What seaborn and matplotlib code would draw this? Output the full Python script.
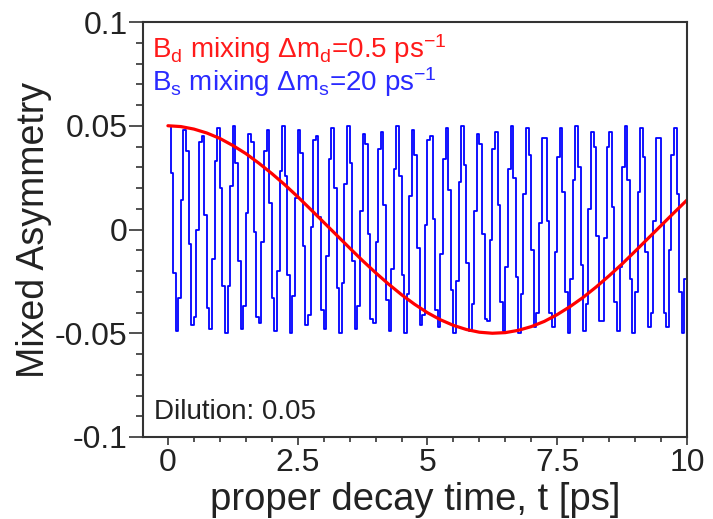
import numpy as np
import pandas as pd
import matplotlib
matplotlib.use("Agg")
import matplotlib.pyplot as plt
import seaborn as sns
from matplotlib.ticker import MultipleLocator, FixedLocator, FixedFormatter

# ---- data ----
# Bs mixing histogram (bin width 0.05 ps, 0..10 ps)
blue_bin_width = 0.05
blue_vals = [
    .050, .027, -.021, -.049, -.033, .014, .048, .038, -.007, -.046,
    -.042, .000, .042, .045, .007, -.038, -.048, -.014, .033, .049,
    .020, -.027, -.050, -.027, .021, .050, .032, -.015, -.048, -.037,
    .008, .046, .042, -.001, -.042, -.045, -.006, .038, .048, .013,
    -.033, -.049, -.020, .028, .050, .026, -.022, -.050, -.032, .015,
    .048, .037, -.008, -.046, -.041, .001, .043, .045, .006, -.039,
    -.048, -.013, .034, .049, .020, -.028, -.050, -.026, .022, .050,
    .032, -.015, -.048, -.037, .009, .046, .041, -.002, -.043, -.045,
    -.006, .039, .047, .012, -.034, -.049, -.019, .029, .050, .026,
    -.022, -.050, -.031, .016, .048, .036, -.009, -.046, -.041, .002,
    .043, .045, .005, -.039, -.047, -.012, .034, .049, .019, -.029,
    -.050, -.025, .023, .050, .031, -.016, -.049, -.036, .009, .046,
    .041, -.002, -.043, -.044, -.005, .039, .047, .012, -.035, -.049,
    -.018, .029, .050, .025, -.023, -.050, -.031, .017, .049, .036,
    -.010, -.047, -.040, .003, .044, .044, .004, -.040, -.047, -.011,
    .035, .049, .018, -.030, -.050, -.024, .024, .050, .030, -.017,
    -.049, -.036, .010, .047, .040, -.003, -.044, -.044, -.004, .040,
    .047, .011, -.035, -.049, -.018, .030, .050, .024, -.024, -.050,
    -.030, .018, .049, .035, -.011, -.047, -.040, .004, .044, .044,
    .003, -.040, -.047, -.010, .036, .049, .017, -.030, -.050, -.024,
]

# Bd mixing curve, sampled every 0.25 ps
red_t = [0.0, 0.25, 0.5, 0.75, 1.0, 1.25, 1.5, 1.75, 2.0, 2.25, 2.5, 2.75, 3.0,
         3.25, 3.5, 3.75, 4.0, 4.25, 4.5, 4.75, 5.0, 5.25, 5.5, 5.75, 6.0, 6.25,
         6.5, 6.75, 7.0, 7.25, 7.5, 7.75, 8.0, 8.25, 8.5, 8.75, 9.0, 9.25, 9.5,
         9.75, 10.0]
red_vals = [.0500, .0496, .0484, .0465, .0439, .0405, .0366, .0320, .0270, .0216,
            .0158, .0097, .0035, -.0027, -.0089, -.0150, -.0208, -.0263, -.0314,
            -.0360, -.0401, -.0435, -.0462, -.0482, -.0495, -.0500, -.0497, -.0486,
            -.0468, -.0443, -.0410, -.0371, -.0327, -.0277, -.0223, -.0166, -.0105,
            -.0043, .0019, .0081, .0142]

x_ticks = [0, 2.5, 5, 7.5, 10]
x_ticklabels = ["0", "2.5", "5", "7.5", "10"]
y_ticks = [-0.1, -0.05, 0, 0.05, 0.1]
y_ticklabels = ["-0.1", "-0.05", "0", "0.05", "0.1"]

label_red = r"B$_{d}$ mixing $\Delta$m$_{d}$=0.5 ps$^{-1}$"
label_blue = r"B$_{s}$ mixing $\Delta$m$_{s}$=20 ps$^{-1}$"
dilution_text = "Dilution: 0.05"
xlabel = "proper decay time, t [ps]"
ylabel = "Mixed Asymmetry"

# ---- plotting ----
sns.set_theme(style="ticks")
plt.rcParams["font.family"] = ["Liberation Sans", "DejaVu Sans"]
plt.rcParams["mathtext.fontset"] = "custom"
plt.rcParams["mathtext.rm"] = "Liberation Sans"
plt.rcParams["mathtext.it"] = "Liberation Sans"
plt.rcParams["mathtext.default"] = "regular"

fig = plt.figure(figsize=(7.13, 5.19), dpi=100)
ax = fig.add_axes([143 / 713, 1 - 437 / 519, (687 - 143) / 713, (437 - 22) / 519])

edges = np.arange(len(blue_vals) + 1) * blue_bin_width
blue_df = pd.DataFrame({"t": edges, "A": list(blue_vals) + [blue_vals[-1]]})
red_df = pd.DataFrame({"t": red_t, "A": red_vals})

sns.lineplot(data=blue_df, x="t", y="A", ax=ax, color="#0000ff", linewidth=1.3,
             drawstyle="steps-post", estimator=None, sort=False)
sns.lineplot(data=red_df, x="t", y="A", ax=ax, color="#ff0000", linewidth=2.3,
             estimator=None, sort=False)

ax.set_xlim(-0.48, 10)
ax.set_ylim(-0.1, 0.1)

ax.xaxis.set_major_locator(FixedLocator(x_ticks))
ax.xaxis.set_major_formatter(FixedFormatter(x_ticklabels))
ax.xaxis.set_minor_locator(MultipleLocator(0.5))
ax.yaxis.set_major_locator(FixedLocator(y_ticks))
ax.yaxis.set_major_formatter(FixedFormatter(y_ticklabels))
ax.yaxis.set_minor_locator(MultipleLocator(0.01))

ax.tick_params(axis="both", which="both", direction="out", color="#333333",
               labelcolor="#222222", width=1.2)
ax.tick_params(axis="y", which="major", length=10, labelsize=23, pad=1)
ax.tick_params(axis="y", which="minor", length=5)
ax.tick_params(axis="x", which="major", length=6, labelsize=23, pad=2)
ax.tick_params(axis="x", which="minor", length=3.5)

for s in ax.spines.values():
    s.set_color("#333333")
    s.set_linewidth(1.5)
    s.set_visible(True)

ax.set_xlabel(xlabel, fontsize=27.5, color="#222222")
ax.set_ylabel(ylabel, fontsize=27, color="#222222")
ax.xaxis.set_label_coords(0.5, -0.108)
ax.yaxis.set_label_coords(-0.168, 0.5)

ax.text(0.016, 0.975, label_red, transform=ax.transAxes, color="#ff1a1a",
        fontsize=20, ha="left", va="top")
ax.text(0.016, 0.895, label_blue, transform=ax.transAxes, color="#2a2aff",
        fontsize=20, ha="left", va="top")
ax.text(0.020, 0.030, dilution_text, transform=ax.transAxes, color="#222222",
        fontsize=20, ha="left", va="bottom")

fig.savefig("out.png", dpi=100, facecolor="white")
